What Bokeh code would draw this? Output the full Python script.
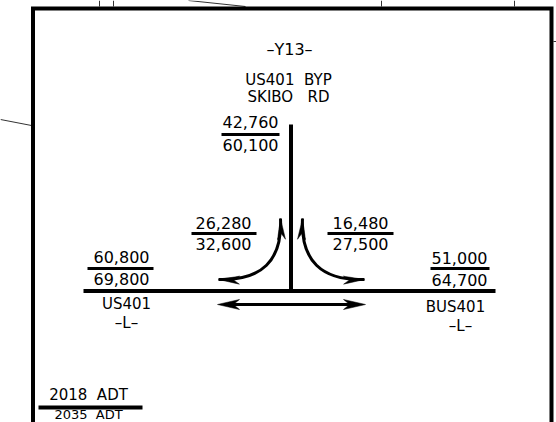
import numpy as np
from bokeh.plotting import figure
from bokeh.models import Range1d, ColumnDataSource
from bokeh.core.properties import value
from bokeh.embed import file_html
from bokeh.resources import INLINE

# ---------------- data ----------------
legs = ["Y13 north", "US401 left turn", "BUS401 right turn", "US401 west", "BUS401 east"]
adt_2018 = [42760, 26280, 16480, 60800, 51000]
adt_2035 = [60100, 32600, 27500, 69800, 64700]
NB = "\u00a0"
route_title = "\u2013Y13\u2013"
route_names = ["US401" + NB * 2 + "BYP", "SKIBO" + NB * 3 + "RD"]
road_labels = ["US401", "BUS401"]
road_sub = ["\u2013L\u2013", "\u2013L\u2013"]
legend_labels = ["2018" + NB * 2 + "ADT", "2035" + NB * 2 + "ADT"]

# ---------------- layout (pixels) ----------------
lab_x = [250, 223, 360, 121, 459]
lab_top = [122, 223, 223, 257, 258]
lab_bar = [134, 233, 233, 268, 268]
lab_bot = [145, 244, 244, 279, 280]
bar_x0 = [221, 191, 327, 87, 430]
bar_x1 = [279, 256, 393, 153, 489]

FONT = "DejaVu Sans"
NUM_SIZE = 16
CAP = 0.365   # half cap height (em)
SHIFT = -6    # empirical baseline correction


def base_y(y, size):
    return y + CAP * size + SHIFT


p = figure(width=556, height=422, x_range=Range1d(0, 556), y_range=Range1d(422, 0),
           output_backend="svg", toolbar_location=None, min_border=0,
           x_axis_type=None, y_axis_type=None, outline_line_color=None,
           background_fill_color="white", border_fill_color="white")
p.styles = {"position": "absolute", "left": "0px", "top": "0px"}

# faint lines of surrounding map
p.segment(x0=[0, 99, 113, 188, 381, 514, 553], y0=[119, 0, 0, 0, 0, 0, 41],
          x1=[31, 99, 113, 245, 381, 514, 556], y1=[125, 6, 6, 6, 6, 6, 41],
          line_color="#333333", line_width=1)

# frame
p.line(x=[32.5, 32.5, 551, 551], y=[430, 8, 8, 430], line_color="black",
       line_width=4, line_join="miter")

# roads
p.line(x=[290.5, 290.5], y=[124, 290.5], line_color="black", line_width=4)
p.line(x=[83, 495], y=[290.5, 290.5], line_color="black", line_width=4)


def head(tip, d, L, W, notch=0.72):
    d = np.asarray(d, float)
    d = d / np.hypot(*d)
    n = np.array([-d[1], d[0]])
    tip = np.asarray(tip, float)
    base = tip - L * d
    pts = [tip, base + W / 2 * n, tip - notch * L * d, base - W / 2 * n]
    return [q[0] for q in pts], [q[1] for q in pts]


heads_x, heads_y = [], []

# through movement double arrow
ay = 304
p.line(x=[225, 357], y=[ay, ay], line_color="black", line_width=3)
for tip, d in [((217, ay), (-1, 0)), ((365, ay), (1, 0))]:
    hx, hy = head(tip, d, 22, 10)
    heads_x.append(hx); heads_y.append(hy)

# turning curves
curves = [((218, 279), (283, 281), (280, 218)),
          ((364, 279), (299, 281), (302, 218))]
for s, c, e in curves:
    p.quadratic(x0=[s[0]], y0=[s[1]], x1=[e[0]], y1=[e[1]], cx=[c[0]], cy=[c[1]],
                line_color="black", line_width=3)
    for tip, ctrl in [(s, c), (e, c)]:
        hx, hy = head(tip, (tip[0] - ctrl[0], tip[1] - ctrl[1]), 21, 8)
        heads_x.append(hx); heads_y.append(hy)

p.patches(xs=heads_x, ys=heads_y, fill_color="black", line_color="black", line_width=0.5)

# volume labels
fmt = lambda v: f"{v:,}"
src = ColumnDataSource(dict(
    x=lab_x,
    ytop=[base_y(y, NUM_SIZE) for y in lab_top],
    ybot=[base_y(y, NUM_SIZE) for y in lab_bot],
    t18=[fmt(v) for v in adt_2018],
    t35=[fmt(v) for v in adt_2035],
))
for col, ycol in [("t18", "ytop"), ("t35", "ybot")]:
    p.text(x="x", y=ycol, text=col, source=src, text_align="center",
           text_baseline="alphabetic", text_font=value(FONT),
           text_font_size=f"{NUM_SIZE}px", text_color="black")
p.segment(x0=bar_x0, y0=lab_bar, x1=bar_x1, y1=lab_bar, line_color="black", line_width=3)


def label(x, y, t, size=15, style="normal"):
    p.text(x=[x], y=[base_y(y, size)], text=[t], text_align="center",
           text_baseline="alphabetic", text_font=value(FONT),
           text_font_size=f"{size}px", text_font_style=style, text_color="black")


label(289, 49, route_title, size=16)
label(288, 80, route_names[0], size=15)
label(288, 97, route_names[1], size=15)
label(126, 304, road_labels[0], size=15)
label(126, 323, road_sub[0], size=15)
label(455, 307, road_labels[1], size=15)
label(460, 326, road_sub[1], size=15)

# legend
label(88, 395, legend_labels[0], size=15)
p.line(x=[38, 142], y=[407, 407], line_color="black", line_width=4)
label(88, 415, legend_labels[1], size=13)

open("out.html", "w").write(file_html(p, INLINE))
